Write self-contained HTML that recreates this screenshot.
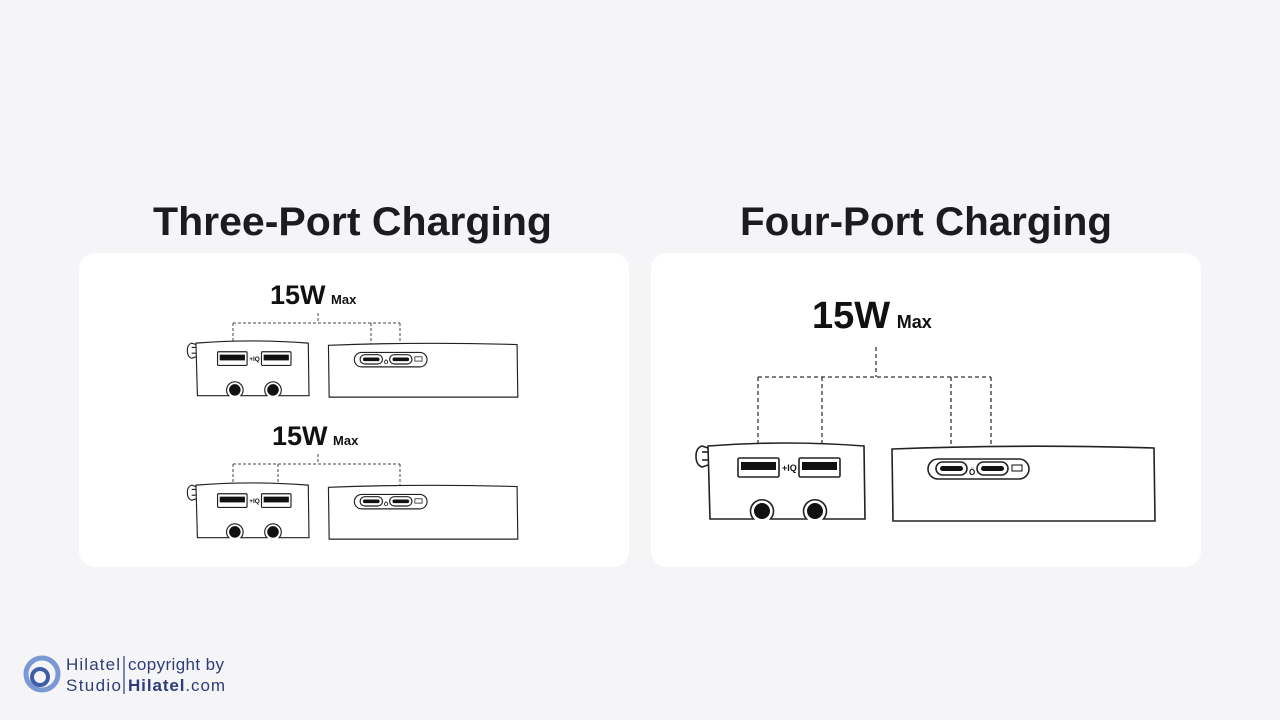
<!DOCTYPE html>
<html><head><meta charset="utf-8"><style>
html,body{margin:0;padding:0;background:#f5f5f7;width:1280px;height:720px;overflow:hidden;font-family:"Liberation Sans",sans-serif}
</style></head><body>
<svg width="1280" height="720" viewBox="0 0 1280 720" xmlns="http://www.w3.org/2000/svg" font-family="Liberation Sans, sans-serif">
<defs>
<g id="dev" fill="none" stroke="#222" stroke-width="1.6">
  <path d="M708,448 L702,446 Q696,448 696,456 Q696,465 702,467 L708,465" fill="#fff"/>
  <line x1="702" y1="452" x2="708" y2="452"/><line x1="702" y1="460" x2="708" y2="460"/>
  <path d="M708,446 Q786,440 864,446 L865,519 L823.5,519 A11.5,11.5 0 1 0 806.5,519 L770.5,519 A11.5,11.5 0 1 0 753.5,519 L710,519 Z" fill="#fff"/>
  <circle cx="762" cy="511" r="8" fill="#111" stroke="none"/>
  <circle cx="815" cy="511" r="8" fill="#111" stroke="none"/>
  <rect x="738" y="458" width="41" height="19" rx="1.5" fill="#fff"/>
  <rect x="741" y="462" width="35" height="8" fill="#111" stroke="none"/>
  <rect x="799" y="458" width="41" height="19" rx="1.5" fill="#fff"/>
  <rect x="802" y="462" width="35" height="8" fill="#111" stroke="none"/>
  <text x="782" y="471" font-size="9" font-weight="bold" fill="#111" stroke="none">+IQ</text>
  <path d="M892,449 Q1020,444 1154,448 L1155,521 L893,521 Z" fill="#fff"/>
  <rect x="928" y="459" width="101" height="20" rx="10" fill="#fff"/>
  <rect x="936" y="462" width="31" height="13" rx="6.5" fill="#fff"/>
  <rect x="940" y="466" width="23" height="5" rx="2.5" fill="#111" stroke="none"/>
  <rect x="977" y="462" width="31" height="13" rx="6.5" fill="#fff"/>
  <rect x="981" y="466" width="23" height="5" rx="2.5" fill="#111" stroke="none"/>
  <rect x="1012" y="465" width="10" height="6" stroke-width="1.1"/>
  <text x="969" y="475" font-size="8" font-weight="bold" fill="#111" stroke="none">Ö</text>
</g>
</defs>

<text x="153" y="235" font-size="40" font-weight="bold" fill="#1c1c1e" textLength="399" lengthAdjust="spacingAndGlyphs">Three-Port Charging</text>
<text x="740" y="235" font-size="40" font-weight="bold" fill="#1c1c1e" textLength="372" lengthAdjust="spacingAndGlyphs">Four-Port Charging</text>

<rect x="79" y="253" width="550" height="314" rx="16" fill="#fff"/>
<rect x="651" y="253" width="550" height="314" rx="16" fill="#fff"/>

<text x="270" y="304" font-size="27" font-weight="bold" fill="#111">15W <tspan font-size="13" dx="-2">Max</tspan></text>
<g fill="none" stroke="#444" stroke-width="1" stroke-dasharray="3,2">
  <path d="M318,313 V323 M233,323 H400 M233,323 V351 M371,323 V351 M400,323 V351"/>
</g>
<use href="#dev" transform="translate(-313.8,22) scale(0.72)"/>

<text x="272" y="445" font-size="27" font-weight="bold" fill="#111">15W <tspan font-size="13" dx="-2">Max</tspan></text>
<g fill="none" stroke="#444" stroke-width="1" stroke-dasharray="3,2">
  <path d="M318,454 V464 M233,464 H400 M233,464 V492 M278,464 V492 M400,464 V494"/>
</g>
<use href="#dev" transform="translate(-313.8,164) scale(0.72)"/>

<text x="812" y="328" font-size="38" font-weight="bold" fill="#111">15W <tspan font-size="18" dx="-4">Max</tspan></text>
<g fill="none" stroke="#333" stroke-width="1.3" stroke-dasharray="4,3">
  <path d="M876,347 V377 M758,377 H991 M758,377 V460 M822,377 V460 M951,377 V462 M991,377 V462"/>
</g>
<use href="#dev"/>

<g>
  <circle cx="42" cy="674" r="16" fill="none" stroke="#7a98d4" stroke-width="5"/>
  <circle cx="40" cy="677" r="8" fill="none" stroke="#3e5ea8" stroke-width="4"/>
  <text x="66" y="670" font-size="17" fill="#2c3d78" textLength="54">Hilatel</text>
  <text x="66" y="691" font-size="17" fill="#2c3d78" textLength="55">Studio</text>
  <line x1="124" y1="656" x2="124" y2="694" stroke="#2c3d78" stroke-width="1.2"/>
  <text x="128" y="670" font-size="17" fill="#2c3d78" textLength="96">copyright by</text>
  <text x="128" y="691" font-size="17" fill="#2c3d78" textLength="97"><tspan font-weight="bold">Hilatel</tspan>.com</text>
</g>
</svg>
</body></html>
